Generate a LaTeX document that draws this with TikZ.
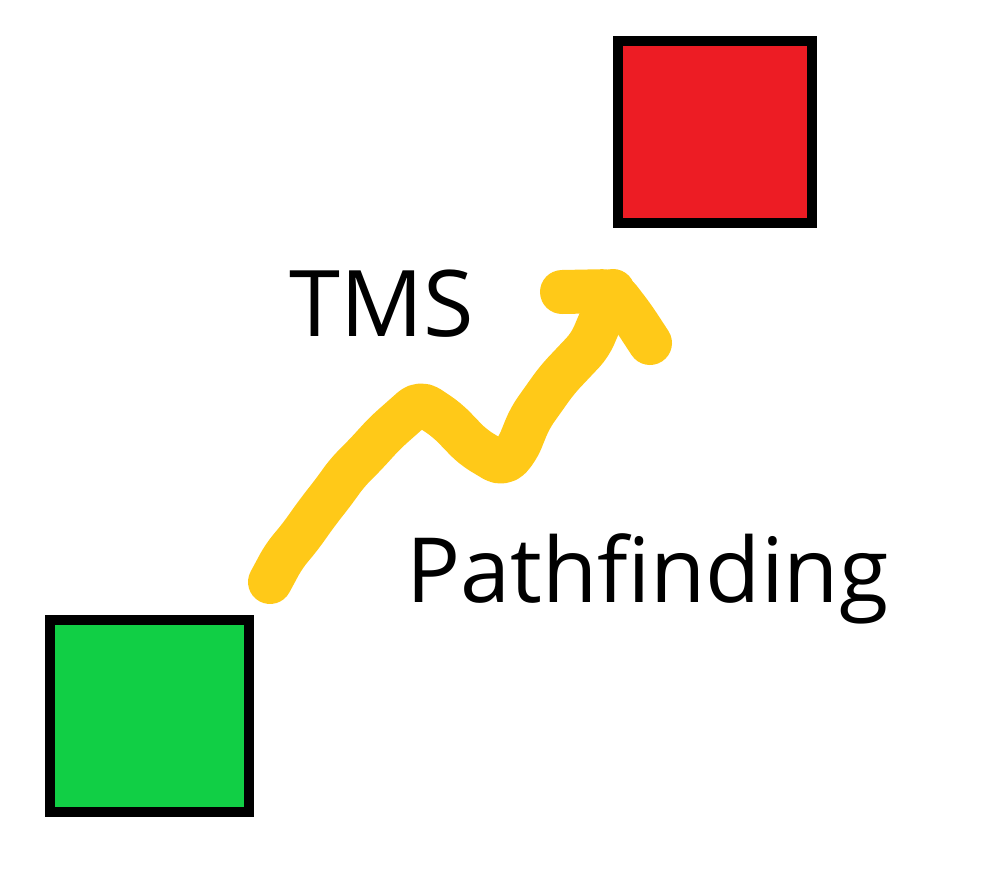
\documentclass[tikz,border=0pt]{standalone}
\usepackage{fontspec}
\setmainfont{Open Sans}
\usepackage{tikz}
\usetikzlibrary{
    positioning,
    calc
}
\usepackage{xcolor}
\definecolor{startgreen}{HTML}{11CF45}
\definecolor{goalred}{HTML}{ED1C24}
\definecolor{trailyellow}{HTML}{FFC918}
\tikzstyle{square} = [
    rectangle,
    draw=black,
    line width=10pt,
    inner sep=0pt
]
\tikzstyle{trail} = [
    draw=trailyellow,
    line width=44pt,
    line cap=round,
    line join=round,
    rounded corners=10pt
]
\tikzstyle{word} = [
    inner sep=0pt,
    anchor=base west,
    font=\fontsize{92}{110}\selectfont
]

\begin{document}
\begin{tikzpicture}[x=1pt, y=-1pt]
        \useasboundingbox (0,0) rectangle (988,876);

        % Start and goal
        \node[square, fill=startgreen, minimum width=199pt, minimum height=192pt] (start) at (149.5,716) {};
        \node[square, fill=goalred, minimum width=194pt, minimum height=182pt] (goal) at (715,132) {};

        % Labels
        \node[word] (tms) at (289,336) {TMS};
        \node[word, font=\fontsize{90}{110}\selectfont] (pathfinding) at (406,602) {Pathfinding};

        % Path ends
        \coordinate (tail) at (270,582);
        \coordinate (tip) at (613,291);
        \coordinate (headl) at (562,292);
        \coordinate (headr) at (650,343);

        % Hand drawn path
        \draw[trail] (tail) -- (284,556) -- (300,537) -- (317,513) -- (335,490)
            -- (347,473) -- (365,455) -- (385,433) -- (420,402) -- (447,420)
            -- (473,447) -- (503,465) -- (517,450) -- (530,418) -- (557,380)
            -- (590,345) -- (tip);
        \draw[trail] (headl) -- (tip) -- (633,317) -- (headr);
    \end{tikzpicture}
\end{document}
